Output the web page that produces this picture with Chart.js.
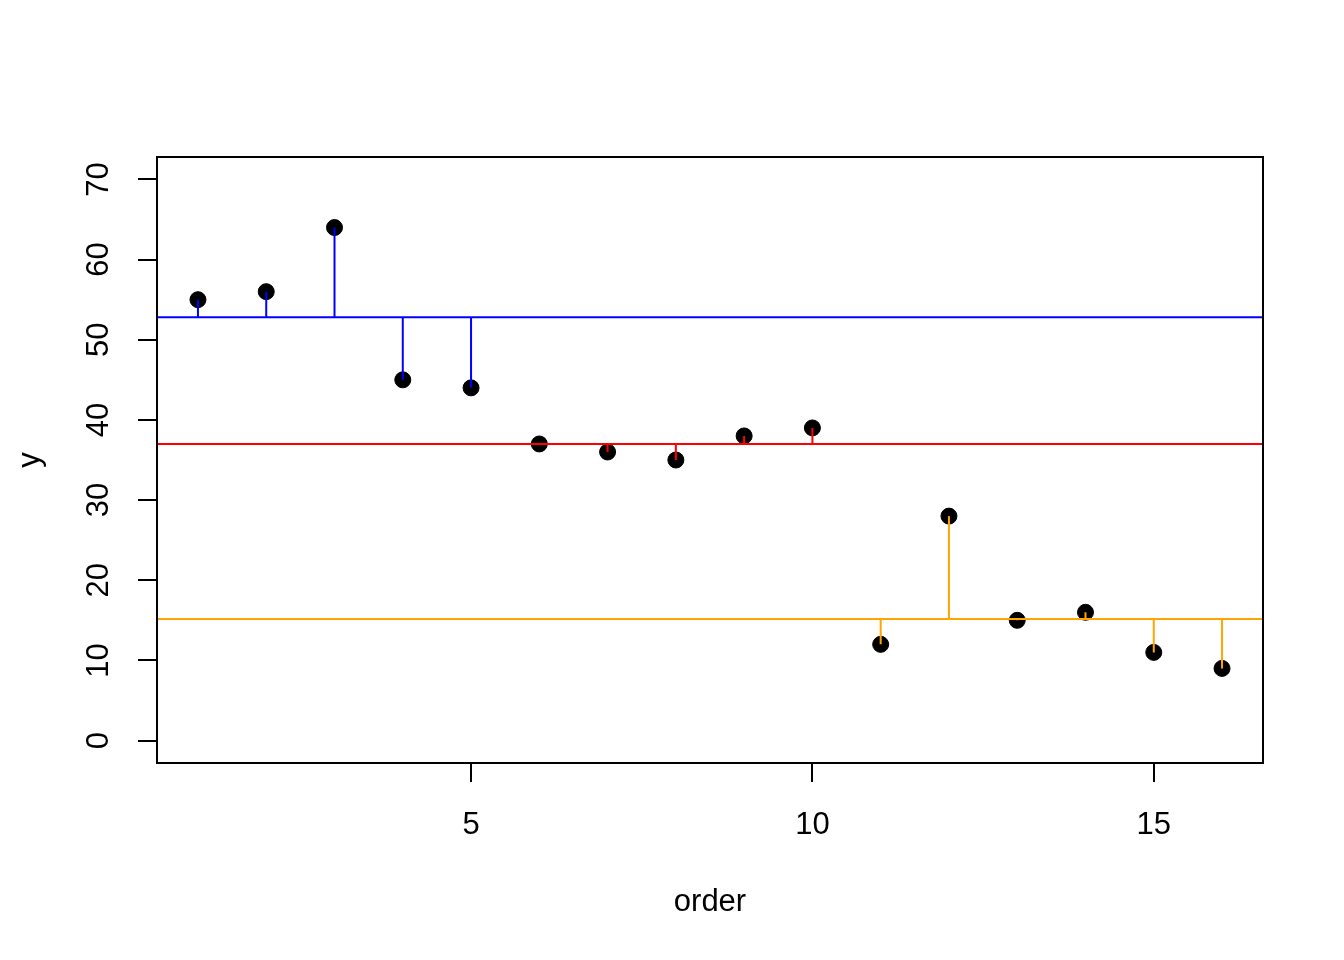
<!DOCTYPE html>
<html>
<head>
<meta charset="utf-8">
<title>order vs y</title>
<script src="https://cdn.jsdelivr.net/npm/chart.js@4/dist/chart.umd.min.js"></script>
<style>
  html, body { margin: 0; padding: 0; background: #fff; }
  #wrap { width: 1344px; height: 960px; }
</style>
</head>
<body>
<div id="wrap"><canvas id="chart" width="1344" height="960"></canvas></div>
<script>
'use strict';

/* ── Data ── */
const order   = [1, 2, 3, 4, 5, 6, 7, 8, 9, 10, 11, 12, 13, 14, 15, 16];
const yValues = [55, 56, 64, 45, 44, 37, 36, 35, 38, 39, 12, 28, 15, 16, 11, 9];
const groupOf = [0, 0, 0, 0, 0, 1, 1, 1, 1, 1, 2, 2, 2, 2, 2, 2];
const groupMeans  = [52.8, 37, 15.17];
const groupColors = ['#0000ff', '#ff0000', '#ffa500'];
const xTicks = [5, 10, 15];
const yTicks = [0, 10, 20, 30, 40, 50, 60, 70];
const xLimits = [0.4, 16.6];
const yLimits = [-2.8, 72.8];

/* ── Styling ── */
const FONT = { family: "'Liberation Sans', Arial, Helvetica, sans-serif", size: 31 };
Chart.defaults.font.family = FONT.family;
Chart.defaults.font.size = FONT.size;
Chart.defaults.color = '#000';

/* ── Datasets ── */
const datasets = [];

// vertical segments from group mean to each point (drawn on top)
order.forEach((x, i) => {
  const g = groupOf[i];
  datasets.push({
    type: 'line',
    data: [{ x, y: groupMeans[g] }, { x, y: yValues[i] }],
    borderColor: groupColors[g],
    borderWidth: 2,
    pointRadius: 0,
    fill: false,
    order: 1,
  });
});

// horizontal group mean lines (abline)
groupMeans.forEach((m, g) => {
  datasets.push({
    type: 'line',
    data: [{ x: xLimits[0], y: m }, { x: xLimits[1], y: m }],
    borderColor: groupColors[g],
    borderWidth: 2,
    pointRadius: 0,
    fill: false,
    order: 2,
  });
});

// black points
datasets.push({
  type: 'scatter',
  data: order.map((x, i) => ({ x, y: yValues[i] })),
  backgroundColor: '#000',
  borderColor: '#000',
  borderWidth: 1,
  pointRadius: 8,
  order: 3,
});

/* ── Plot box ── */
const boxPlugin = {
  id: 'box',
  afterDraw(chart) {
    const { ctx, chartArea: a } = chart;
    ctx.save();
    ctx.strokeStyle = '#000';
    ctx.lineWidth = 2;
    ctx.strokeRect(a.left, a.top, a.right - a.left, a.bottom - a.top);
    ctx.restore();
  },
};

const axisGrid = {
  display: true,
  drawOnChartArea: false,
  drawTicks: true,
  tickLength: 19,
  color: '#000',
  lineWidth: 2,
};

new Chart(document.getElementById('chart'), {
  type: 'scatter',
  data: { datasets },
  options: {
    responsive: false,
    animation: false,
    devicePixelRatio: 1,
    layout: { padding: { top: 157, right: 81, bottom: 0, left: 0 } },
    plugins: { legend: { display: false }, tooltip: { enabled: false } },
    scales: {
      x: {
        type: 'linear',
        min: xLimits[0],
        max: xLimits[1],
        afterBuildTicks: (s) => { s.ticks = xTicks.map((v) => ({ value: v })); },
        afterFit: (s) => { s.height = 197; },
        grid: axisGrid,
        border: { display: true, color: '#000', width: 2 },
        ticks: { padding: 25, color: '#000', font: FONT, maxRotation: 0 },
        title: { display: true, text: 'order', color: '#000', font: FONT, padding: { top: 0, bottom: 39 } },
      },
      y: {
        type: 'linear',
        min: yLimits[0],
        max: yLimits[1],
        afterBuildTicks: (s) => { s.ticks = yTicks.map((v) => ({ value: v })); },
        afterFit: (s) => { s.width = 157; },
        grid: axisGrid,
        border: { display: true, color: '#000', width: 2 },
        ticks: { padding: 21, color: '#000', font: FONT, minRotation: 90, maxRotation: 90, crossAlign: 'center' },
        title: { display: true, text: 'y', color: '#000', font: FONT, padding: { top: 12, bottom: 0 } },
      },
    },
  },
  plugins: [boxPlugin],
});
</script>
</body>
</html>
